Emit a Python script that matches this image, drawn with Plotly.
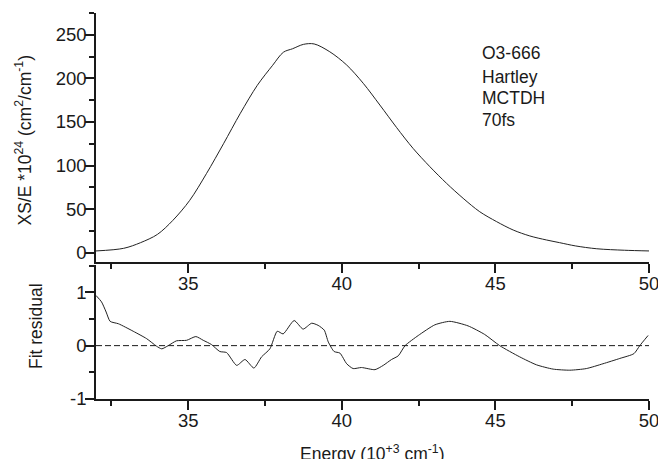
import plotly.graph_objects as go

# ---- data ----
energy_top = [32.0, 32.9, 33.45, 34.0, 34.5, 35.05, 35.6, 36.15, 36.7, 37.25, 37.75, 38.1,
              38.4, 38.75, 39.1, 39.61, 40.16, 40.70, 41.24, 41.78, 42.32, 42.87, 43.41,
              43.95, 44.49, 45.04, 45.58, 46.12, 46.66, 47.09, 47.6, 48.3, 49.2, 50.0]
xs_over_e = [2.0, 5, 11.5, 21, 37, 60, 91, 125, 160, 192, 215, 230,
             234, 239, 239.5, 230.5, 215.3, 194.3, 169.4, 143.8, 119.7, 98.6, 79.6,
             62.4, 47.0, 35.6, 26.0, 19.2, 14.6, 11.5, 7.8, 4.5, 2.8, 2.0]

energy_res = [32.0, 32.18, 32.33, 32.46, 32.73, 33.21, 33.65, 33.97, 34.14, 34.35, 34.62, 34.95,
              35.25, 35.49, 35.76, 36.03, 36.25, 36.58, 36.85, 37.14, 37.39, 37.66, 37.90, 38.09,
              38.45, 38.74, 39.02, 39.23, 39.43, 39.56, 39.75, 39.94, 40.16, 40.37, 40.64, 41.08,
              41.35, 41.62, 41.84, 42.06, 42.49, 43.03, 43.52, 44.11, 44.65, 45.14, 45.79, 46.34,
              46.88, 47.42, 47.96, 48.5, 49.05, 49.51, 49.7, 49.97]
residual = [0.94, 0.82, 0.63, 0.455, 0.41, 0.27, 0.13, -0.01, -0.06, 0.0, 0.09, 0.10,
            0.17, 0.10, 0.02, -0.11, -0.13, -0.37, -0.26, -0.42, -0.21, -0.06, 0.27, 0.22,
            0.47, 0.31, 0.42, 0.38, 0.29, 0.07, -0.11, -0.14, -0.34, -0.43, -0.41, -0.45,
            -0.37, -0.26, -0.19, 0.0, 0.19, 0.39, 0.455, 0.37, 0.21, 0.0, -0.21, -0.36,
            -0.44, -0.46, -0.43, -0.34, -0.24, -0.15, 0.0, 0.19]

x_ticks = [35, 40, 45, 50]
y_top_ticks = [0, 50, 100, 150, 200, 250]
y_res_ticks = [-1, 0, 1]
y_res_labels = ["-1", "0", "1"]
info_lines = ["O3-666", "Hartley", "MCTDH", "70fs"]

FONT = "Liberation Sans, Arial, sans-serif"
FS = 17.5
TICK_FS = 18.5
INK = "#1a1a1a"

fig = go.Figure()
fig.add_trace(go.Scatter(x=energy_top, y=xs_over_e, mode="lines",
                         line=dict(color="#222", width=1, shape="spline", smoothing=0.9),
                         xaxis="x", yaxis="y", showlegend=False))
fig.add_trace(go.Scatter(x=energy_res, y=residual, mode="lines",
                         line=dict(color="#222", width=1, shape="spline", smoothing=0.6),
                         xaxis="x2", yaxis="y2", showlegend=False))

axis_common = dict(showline=True, linecolor=INK, linewidth=1.5, ticks="outside",
                   tickcolor=INK, tickwidth=1.5, ticklen=9, showgrid=False, zeroline=False,
                   tickfont=dict(family=FONT, size=TICK_FS, color=INK), mirror=False,
                   ticklabeloverflow="allow", automargin=False)

minor_x = dict(ticks="outside", dtick=2.5, tick0=32.5, ticklen=5, tickcolor=INK, tickwidth=1.5)

fig.update_layout(
    width=658, height=459,
    margin=dict(l=96, r=9, t=13, b=60, autoexpand=False),
    paper_bgcolor="white", plot_bgcolor="white",
    font=dict(family=FONT, size=FS, color=INK),
    xaxis=dict(domain=[0, 1], range=[32, 50], anchor="y", tickvals=x_ticks,
               minor=minor_x, ticklabelstandoff=-5, **axis_common),
    yaxis=dict(domain=[0.3549, 1], range=[-10.7, 275], anchor="x", tickvals=y_top_ticks,
               minor=dict(ticks="outside", dtick=25, tick0=0, ticklen=5, tickcolor=INK, tickwidth=1.5),
               ticklabelstandoff=-5, **axis_common),
    xaxis2=dict(domain=[0, 1], range=[32, 50], anchor="y2", tickvals=x_ticks,
                minor=minor_x, ticklabelstandoff=-5, **axis_common),
    yaxis2=dict(domain=[0, 0.347], range=[-1, 1.51], anchor="x2", tickvals=y_res_ticks,
                ticktext=y_res_labels,
                minor=dict(ticks="outside", dtick=0.5, tick0=0, ticklen=5, tickcolor=INK, tickwidth=1.5),
                ticklabelstandoff=-5, **axis_common),
)

# dashed zero line in residual panel
fig.add_shape(type="line", xref="x2", yref="y2", x0=32, x1=50, y0=0, y1=0,
              line=dict(color=INK, width=1, dash="6px,3px"))

# info text block
info_y = [228.7, 201.8, 177.8, 152.2]
for txt, yy in zip(info_lines, info_y):
    fig.add_annotation(x=44.49, y=yy, xref="x", yref="y", text=txt, showarrow=False,
                       xanchor="left", yanchor="middle",
                       font=dict(family=FONT, size=FS, color=INK))

# axis titles
fig.add_annotation(xref="paper", yref="paper", x=0, y=(0.3549 + 1) / 2, xshift=-73, yshift=-3,
                   text="XS/E *10<sup>24</sup> (cm<sup>2</sup>/cm<sup>-1</sup>)",
                   textangle=-90, showarrow=False, xanchor="center", yanchor="middle",
                   font=dict(family=FONT, size=FS, color=INK))
fig.add_annotation(xref="paper", yref="paper", x=0, y=0.347 / 2, xshift=-60, yshift=6,
                   text="Fit residual", textangle=-90, showarrow=False,
                   xanchor="center", yanchor="middle",
                   font=dict(family=FONT, size=FS, color=INK))
fig.add_annotation(xref="paper", yref="paper", x=0.5, y=0, yshift=-54,
                   text="Energy (10<sup>+3</sup> cm<sup>-1</sup>)", showarrow=False,
                   xanchor="center", yanchor="middle",
                   font=dict(family=FONT, size=FS, color=INK))

fig.write_html("out.html", config={"displayModeBar": False},
               post_script="document.body.style.margin='0';document.body.style.overflow='hidden';")
